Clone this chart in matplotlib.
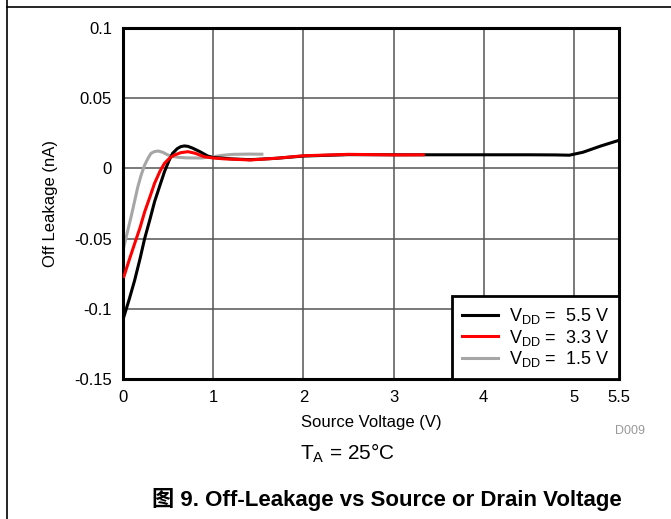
import matplotlib
matplotlib.use('Agg')
import matplotlib.pyplot as plt
from matplotlib.lines import Line2D

plt.rcParams['font.family'] = ['Liberation Sans', 'Noto Sans CJK SC', 'DejaVu Sans']
plt.rcParams['mathtext.default'] = 'regular'

# VDD = 5.5 V
x_55 = [0.01, 0.07, 0.13, 0.19, 0.24, 0.30, 0.35, 0.41, 0.46, 0.51, 0.55,
        0.60, 0.64, 0.68, 0.72, 0.77, 0.85, 0.94, 1.0, 1.2, 1.41, 1.7, 2.0,
        2.5, 3.0, 3.5, 4.0, 4.5, 4.8, 4.95, 5.1, 5.3, 5.5]
y_55 = [-0.1056, -0.093, -0.0795, -0.064, -0.050, -0.036, -0.0237, -0.012,
        -0.0023, 0.0055, 0.0107, 0.0140, 0.0155, 0.0160, 0.0157, 0.0145,
        0.012, 0.0088, 0.0078, 0.0068, 0.0062, 0.0072, 0.0088, 0.0098,
        0.0097, 0.0097, 0.0097, 0.0097, 0.0096, 0.0094, 0.0115, 0.016, 0.020]
# VDD = 3.3 V
x_33 = [0.01, 0.07, 0.13, 0.19, 0.24, 0.30, 0.35, 0.41, 0.46, 0.52, 0.57,
        0.64, 0.72, 0.80, 0.90, 1.0, 1.12, 1.41, 1.7, 2.0, 2.5, 3.05, 3.33]
y_33 = [-0.077, -0.065, -0.0534, -0.042, -0.031, -0.020, -0.0106, -0.002,
        0.0036, 0.0075, 0.0095, 0.0112, 0.0119, 0.0108, 0.0083, 0.0074,
        0.0068, 0.006, 0.0072, 0.009, 0.010, 0.0096, 0.0097]
# VDD = 1.5 V
x_15 = [0.01, 0.05, 0.09, 0.13, 0.165, 0.20, 0.24, 0.28, 0.31, 0.35, 0.39,
        0.44, 0.50, 0.55, 0.61, 0.70, 0.87, 1.0, 1.1, 1.22, 1.4, 1.54]
y_15 = [-0.0558, -0.045, -0.0344, -0.023, -0.013, -0.005, 0.0024, 0.0075,
        0.0107, 0.0120, 0.0124, 0.0115, 0.0095, 0.0085, 0.0079, 0.0075,
        0.0074, 0.0083, 0.0093, 0.0100, 0.0102, 0.0101]

x_ticks = [0, 1, 2, 3, 4, 5, 5.5]
x_tick_labels = ['0', '1', '2', '3', '4', '5', '5.5']
y_ticks = [-0.15, -0.1, -0.05, 0, 0.05, 0.1]
y_tick_labels = ['-0.15', '-0.1', '-0.05', '0', '0.05', '0.1']

fig = plt.figure(figsize=(6.71, 5.19), dpi=100)
ax = fig.add_axes([123 / 671, 1 - 379 / 519, 496 / 671, 351 / 519])

ax.plot(x_55, y_55, color='black', lw=2.2, label='V$_{DD}$ =  5.5 V', zorder=3)
ax.plot(x_33, y_33, color='#ff0000', lw=2.2, label='V$_{DD}$ =  3.3 V', zorder=4)
ax.plot(x_15, y_15, color='#a6a6a6', lw=2.2, label='V$_{DD}$ =  1.5 V', zorder=2)

ax.set_xlim(0, 5.5)
ax.set_ylim(-0.15, 0.1)
ax.set_xticks(x_ticks)
ax.set_xticklabels(x_tick_labels)
ax.set_yticks(y_ticks)
ax.set_yticklabels(y_tick_labels)
ax.tick_params(length=0, labelsize=12, pad=8)
ax.grid(True, color='#555555', lw=1.1)
for s in ax.spines.values():
    s.set_linewidth(2.2)

leg = ax.legend(loc='lower right', borderaxespad=0, fontsize=13, fancybox=False,
                handlelength=2.0, handletextpad=0.6, labelspacing=0.08,
                borderpad=0.55)
leg.get_frame().set_edgecolor('black')
leg.get_frame().set_linewidth(2)
leg.get_frame().set_alpha(1)

fig.text(50 / 671, 1 - 203.5 / 519, 'Off Leakage (nA)', rotation=90,
         ha='center', va='center', fontsize=12)
fig.text(371 / 671, 1 - 422 / 519, 'Source Voltage (V)', ha='center',
         va='center', fontsize=12)
fig.text(630 / 671, 1 - 431 / 519, 'D009', ha='center', va='center',
         fontsize=9, color='#999999')
fig.text(347 / 671, 1 - 453 / 519, 'T$_A$ = 25°C', ha='center', va='center',
         fontsize=15)
fig.text(387 / 671, 1 - 499 / 519, '图 9. Off-Leakage vs Source or Drain Voltage',
         ha='center', va='center', fontsize=16, fontweight='bold')

# page frame
fig.add_artist(Line2D([7 / 671, 7 / 671], [0, 1], color='black', lw=1.2,
                      transform=fig.transFigure))
fig.add_artist(Line2D([7 / 671, 1], [1 - 7 / 519, 1 - 7 / 519], color='black',
                      lw=1.2, transform=fig.transFigure))

fig.savefig('out.png', dpi=100)
